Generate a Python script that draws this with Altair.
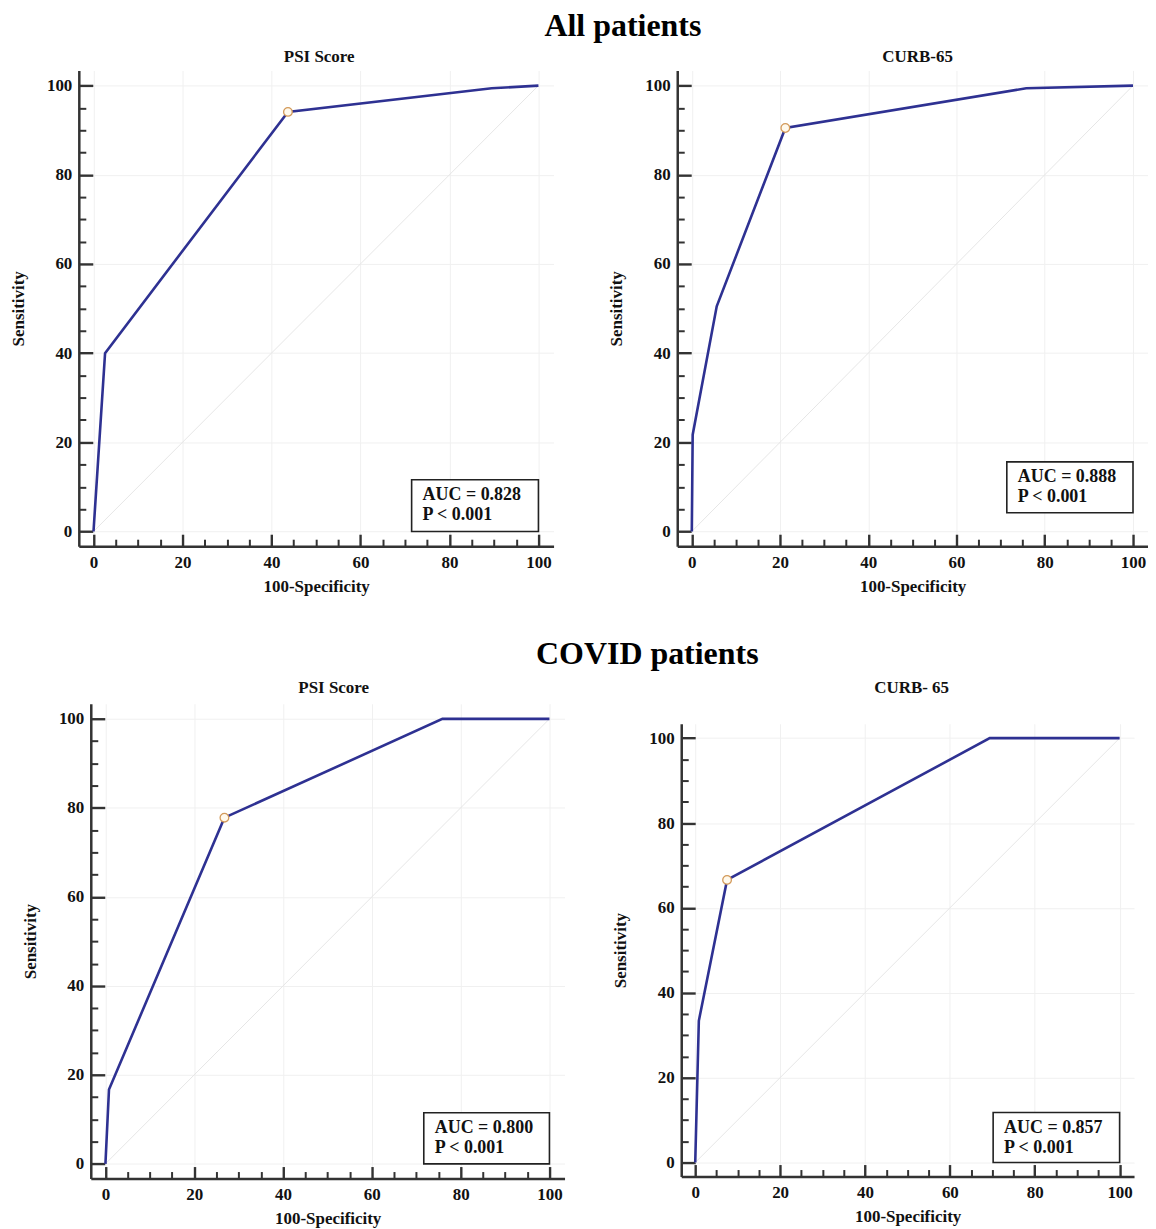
import altair as alt
import pandas as pd

FONT = "Liberation Serif"

# ---- data (100-Specificity, Sensitivity) ----
all_psi_fpr = [0, 2.6, 43.7, 89.5, 100]
all_psi_tpr = [0, 40.0, 94.1, 99.4, 100]
all_psi_cut = [43.7, 94.1]

all_curb_fpr = [0, 0.2, 5.65, 21.2, 75.8, 100]
all_curb_tpr = [0, 21.7, 50.5, 90.5, 99.4, 100]
all_curb_cut = [21.2, 90.5]

cov_psi_fpr = [0, 0.8, 26.8, 75.9, 100]
cov_psi_tpr = [0, 16.7, 77.8, 100, 100]
cov_psi_cut = [26.8, 77.8]

cov_curb_fpr = [0, 0.85, 7.5, 69.4, 100]
cov_curb_tpr = [0, 33.4, 66.6, 100, 100]
cov_curb_cut = [7.5, 66.6]

auc_labels = ["AUC = 0.828", "AUC = 0.888", "AUC = 0.800", "AUC = 0.857"]
p_labels = ["P < 0.001", "P < 0.001", "P < 0.001", "P < 0.001"]
panel_titles = ["PSI Score", "CURB-65", "PSI Score", "CURB- 65"]
row_titles = ["All patients", "COVID patients"]

# annotation boxes (data units): x1, x2, y1, y2
boxes = [
    [71.5, 100, 0, 11.6],
    [71.4, 100, 4.2, 15.6],
    [71.7, 100, 0, 11.5],
    [70.2, 100, 0, 11.8],
]

diag_x = [0, 100]
diag_y = [0, 100]
major_ticks = [0, 20, 40, 60, 80, 100]
minor_ticks = [v for v in range(0, 101, 5) if v % 20 != 0]

DOMAIN = [-3.3, 103.4]
AXIS_COLOR = "#333333"
LINE_COLOR = "#2E3192"


def panel(fpr, tpr, cut, auc, ptxt, box, title, w, h, toff, tdx):
    xs = alt.Scale(domain=DOMAIN, nice=False, zero=False)
    ys = alt.Scale(domain=DOMAIN, nice=False, zero=False)

    lab = dict(labelFont=FONT, labelFontSize=17, labelFontWeight="bold",
               labelColor="#111111", labelFlush=False,
               labelOverlap=False, titleFont=FONT, titleFontSize=17,
               titleFontWeight="bold", titleColor="#111111",
               domain=True, domainColor=AXIS_COLOR, domainWidth=2.5,
               ticks=False, grid=True, gridColor="#f0f0f0", gridWidth=1,
               values=major_ticks)
    x_main = alt.Axis(orient="bottom", title="100-Specificity", titlePadding=8,
                      labelPadding=8, **lab)
    y_main = alt.Axis(orient="left", title="Sensitivity", titlePadding=19,
                      labelPadding=7, **lab)

    tk = dict(domain=False, labels=False, ticks=True, tickColor=AXIS_COLOR,
              grid=False, title=None)
    x_major = alt.Axis(orient="bottom", values=major_ticks, tickSize=12,
                       tickWidth=2.4, offset=-12, **tk)
    y_major = alt.Axis(orient="left", values=major_ticks, tickSize=14,
                       tickWidth=2.4, offset=-14, **tk)
    x_minor = alt.Axis(orient="bottom", values=minor_ticks, tickSize=7,
                       tickWidth=2, offset=-7, **tk)
    y_minor = alt.Axis(orient="left", values=minor_ticks, tickSize=7,
                       tickWidth=2, offset=-7, **tk)

    diag_df = pd.DataFrame({"x": diag_x, "y": diag_y})
    roc_df = pd.DataFrame({"fpr": fpr, "tpr": tpr})
    cut_df = pd.DataFrame({"fpr": [cut[0]], "tpr": [cut[1]]})
    box_df = pd.DataFrame({"x1": [box[0]], "x2": [box[1]], "y1": [box[2]],
                           "y2": [box[3]], "auc": [auc], "p": [ptxt]})

    diag = alt.Chart(diag_df).mark_line(color="#e6e6e6", strokeWidth=1).encode(
        x=alt.X("x:Q", scale=xs, axis=x_main),
        y=alt.Y("y:Q", scale=ys, axis=y_main),
    )
    roc = alt.Chart(roc_df).mark_line(color=LINE_COLOR, strokeWidth=2.6).encode(
        x=alt.X("fpr:Q", scale=xs, axis=x_major),
        y=alt.Y("tpr:Q", scale=ys, axis=y_major),
        order="fpr:Q",
    )
    pt = alt.Chart(cut_df).mark_point(shape="circle", size=75, filled=True,
                                      fill="#FFF9EC", stroke="#D39A5A",
                                      strokeWidth=1.3, opacity=1).encode(
        x=alt.X("fpr:Q", scale=xs, axis=x_minor),
        y=alt.Y("tpr:Q", scale=ys, axis=y_minor),
    )
    rect = alt.Chart(box_df).mark_rect(fill="white", stroke="#222222",
                                       strokeWidth=1.6).encode(
        x=alt.X("x1:Q", scale=xs, axis=None), x2="x2:Q",
        y=alt.Y("y1:Q", scale=ys, axis=None), y2="y2:Q",
    )
    t1 = alt.Chart(box_df).mark_text(font=FONT, fontSize=18, fontWeight="bold",
                                     color="#111111", align="left",
                                     baseline="middle", dx=11, dy=15.5).encode(
        x=alt.X("x1:Q", scale=xs, axis=None),
        y=alt.Y("y2:Q", scale=ys, axis=None),
        text="auc:N",
    )
    t2 = alt.Chart(box_df).mark_text(font=FONT, fontSize=18, fontWeight="bold",
                                     color="#111111", align="left",
                                     baseline="middle", dx=11, dy=35.5).encode(
        x=alt.X("x1:Q", scale=xs, axis=None),
        y=alt.Y("y2:Q", scale=ys, axis=None),
        text="p:N",
    )
    return alt.layer(diag, roc, pt, rect, t1, t2).resolve_axis(
        x="independent", y="independent"
    ).properties(
        width=w, height=h,
        title=alt.TitleParams(title, font=FONT, fontSize=17, fontWeight="bold",
                              color="#111111", baseline="alphabetic",
                              offset=toff, anchor="middle", dx=tdx),
    )


def spacer(w, h):
    return alt.Chart(pd.DataFrame({"a": [0]})).mark_point(
        opacity=0, size=0, strokeWidth=0).properties(width=w, height=h)


tl = panel(all_psi_fpr, all_psi_tpr, all_psi_cut, auc_labels[0], p_labels[0],
           boxes[0], panel_titles[0], 476, 477, -8.5, 3)
tr = panel(all_curb_fpr, all_curb_tpr, all_curb_cut, auc_labels[1], p_labels[1],
           boxes[1], panel_titles[1], 472, 477, -8.5, 5)
bl = panel(cov_psi_fpr, cov_psi_tpr, cov_psi_cut, auc_labels[2], p_labels[2],
           boxes[2], panel_titles[2], 475, 476, -6.4, 6)
br = panel(cov_curb_fpr, cov_curb_tpr, cov_curb_cut, auc_labels[3], p_labels[3],
           boxes[3], panel_titles[3], 454, 454, 13.6, 4)


def row_title(text, dx, off):
    return alt.TitleParams(text, font=FONT, fontSize=32, fontWeight="bold",
                           color="#000000", baseline="alphabetic", offset=off,
                           anchor="middle", dx=dx)


row1 = alt.hconcat(
    alt.hconcat(spacer(1, 1), tl, spacing=0),
    tr, spacing=54, title=row_title(row_titles[0], 45, -20.3))

row2 = alt.hconcat(
    alt.vconcat(spacer(1, 1), alt.hconcat(spacer(13, 1), bl, spacing=0), spacing=0),
    alt.vconcat(spacer(1, 1), br, spacing=0),
    spacing=47, title=row_title(row_titles[1], 76.5, -17.8))

chart = alt.vconcat(row1, row2, spacing=43).properties(
    padding={"left": 0, "top": 0, "right": 0, "bottom": 0},
    background="white",
).configure_view(stroke=None)

chart.save("out.html", embed_options={"renderer": "svg", "actions": False})
